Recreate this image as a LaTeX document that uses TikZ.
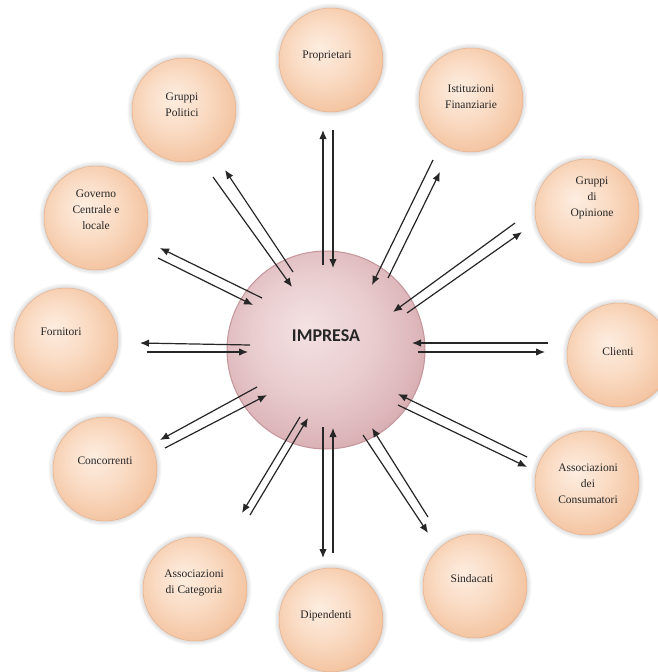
\documentclass[tikz,border=0pt]{standalone}
\usepackage{fontspec}
\setmainfont{Liberation Serif}
\newfontfamily\headfont{Carlito}
\usetikzlibrary{arrows.meta}

\definecolor{inkgray}{HTML}{262626}
\definecolor{pe1}{HTML}{FDEDE0}
\definecolor{pe2}{HTML}{FADCC5}
\definecolor{pe3}{HTML}{F4C6A4}
\definecolor{pe4}{HTML}{EBB28B}
\definecolor{peachrim}{HTML}{E6B08B}
\definecolor{ro1}{HTML}{F4E2E3}
\definecolor{ro2}{HTML}{E9CDCF}
\definecolor{ro3}{HTML}{DBB3B7}
\definecolor{ro4}{HTML}{C89BA0}
\definecolor{rosyrim}{HTML}{C4959A}

% light centre towards the upper left, deeper tone at the rim
\pgfdeclareradialshading{peach}{\pgfpoint{-6bp}{6bp}}{%
  color(0bp)=(pe1); color(14bp)=(pe2); color(27bp)=(pe3); color(32bp)=(pe4); color(50bp)=(pe4)}
\pgfdeclareradialshading{rosy}{\pgfpoint{-5bp}{6bp}}{%
  color(0bp)=(ro1); color(15bp)=(ro2); color(27bp)=(ro3); color(32bp)=(ro4); color(50bp)=(ro4)}

\begin{document}
\begin{tikzpicture}[x=1pt,y=-1pt,
  party/.style={circle, minimum size=104pt, inner sep=0pt, shade, shading=peach,
                draw=peachrim, line width=0.5pt},
  core/.style={circle, minimum size=198pt, inner sep=0pt, shade, shading=rosy,
               draw=rosyrim, line width=1pt},
  tag/.style={font=\fontsize{11.5}{16}\selectfont, text=inkgray, align=center, inner sep=0pt},
  flow/.style={-{Latex[length=9pt,width=7.5pt]}, line width=1.2pt, draw=inkgray},
]
\useasboundingbox[fill=white] (0,0) rectangle (658,672);

% stakeholder circles with a faint halo, then their labels
\foreach \n/\cx/\cy/\tx/\ty/\txt in {
  prop/331/60/327/56/Proprietari,
  istf/471/100/471/97/{Istituzioni\\Finanziarie},
  opin/587/211/592/198/{Gruppi\\di\\Opinione},
  clie/619/355/618/352/Clienti,
  cons/587/483/588/484/{Associazioni\\dei\\Consumatori},
  sind/475/586/472/579/Sindacati,
  dipe/331/620/326/616/Dipendenti,
  cate/195/589/194/583/{Associazioni\\di Categoria},
  conc/105/469/105/461/Concorrenti,
  forn/66/340/61/332/Fornitori,
  gove/96/218/96/210/{Governo\\Centrale e\\locale},
  poli/184/110/182/105/{Gruppi\\Politici}}{
  \foreach \k in {1.5,3,4.5}
    \fill[black, opacity=0.04] (\cx,\cy) circle ({52+\k});
  \node[party] (c-\n) at (\cx,\cy) {};
  \node[tag] (t-\n) at (\tx,\ty) {\txt};
}

% the firm at the centre
\node[core] (imp) at (326,350) {};
\node[font=\headfont\bfseries\fontsize{18}{20}\selectfont, text=inkgray, inner sep=0pt]
  (t-imp) at (326,336) {IMPRESA};

% paired flows between the firm and each stakeholder
\foreach \a/\tx/\ty/\hx/\hy in {
  p1/323/265/323/130, p2/333/130/333/268,
  i1/388/278/440/172, i2/433/160/372/285,
  o1/407/313/522/232, o2/515/223/393/312,
  c1/548/343/412/343, c2/418/352/545/352,
  a1/527/457/398/394, a2/398/405/527/467,
  s1/428/517/372/428, s2/363/435/428/533,
  d1/323/427/323/558, d2/333/553/333/428,
  g1/250/515/308/418, g2/300/417/242/513,
  k1/165/448/267/395, k2/257/387/160/440,
  f1/250/345/140/343, f2/147/352/248/352,
  v1/262/298/160/248, v2/158/258/253/305,
  q1/293/272/225/170, q2/213/177/292/287}{
  \coordinate (\a-t) at (\tx,\ty);
  \coordinate (\a-h) at (\hx,\hy);
  \draw[flow] (\a-t) -- (\a-h);
}
\end{tikzpicture}
\end{document}
